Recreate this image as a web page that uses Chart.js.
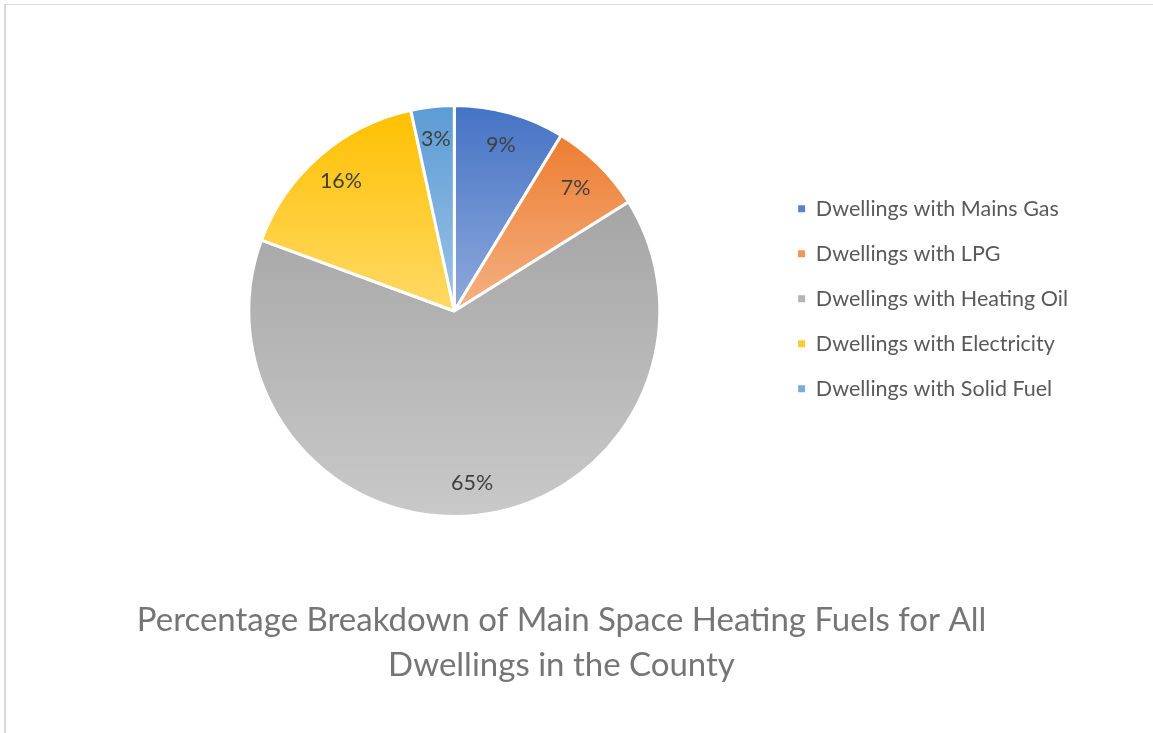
<!DOCTYPE html>
<html>
<head>
<meta charset="utf-8">
<script src="https://cdn.jsdelivr.net/npm/chart.js@4"></script>
<style>
  html, body { margin: 0; padding: 0; background: #fff; }
  body { width: 1153px; height: 733px; position: relative; overflow: hidden; }
  #frame { position: absolute; left: 4px; top: 4px; width: 1170px; height: 760px;
           border-top: 1px solid #d9d9d9; border-left: 2px solid #d9d9d9; }
  #wrap { position: absolute; left: 0; top: 0; width: 1153px; height: 733px; }
</style>
</head>
<body>
<div id="frame"></div>
<div id="wrap"><canvas id="pieChart"></canvas></div>
<script>
// données (en %)
const fuelLabels = [
  'Dwellings with Mains Gas',
  'Dwellings with LPG',
  'Dwellings with Heating Oil',
  'Dwellings with Electricity',
  'Dwellings with Solid Fuel'
];
const fuelShares = [8.7, 7.4, 64.5, 16.0, 3.4];
const chartTitle = ['Percentage Breakdown of Main Space Heating Fuels for All', 'Dwellings in the County'];

// couleurs : haut (foncé) -> bas (clair) de chaque part
const topColors = ['#4472c4', '#ed7d31', '#a5a5a5', '#ffc000', '#5b9bd5'];
const bottomColors = ['#8faadc', '#f4b183', '#c9c9c9', '#ffd966', '#9dc3e6'];
const legendColors = ['#5b80cc', '#f0945a', '#b5b5b5', '#ffca33', '#78aedc'];

const FONT = 'Lato, "Open Sans", sans-serif';

// dégradé vertical sur la hauteur de chaque part
function sliceGradient(ctx) {
  const chart = ctx.chart;
  const area = chart.chartArea;
  const i = ctx.dataIndex;
  if (!area || i === undefined) return topColors[i || 0];
  const cx = (area.left + area.right) / 2;
  const cy = (area.top + area.bottom) / 2;
  const r = Math.min(area.width, area.height) / 2;
  const total = fuelShares.reduce((a, b) => a + b, 0);
  let before = 0;
  for (let k = 0; k < i; k++) before += fuelShares[k];
  const a0 = -Math.PI / 2 + 2 * Math.PI * before / total;
  const a1 = a0 + 2 * Math.PI * fuelShares[i] / total;
  const ys = [cy, cy + r * Math.sin(a0), cy + r * Math.sin(a1)];
  for (const a of [-Math.PI / 2, Math.PI / 2, 3 * Math.PI / 2]) {
    if (a > a0 && a < a1) ys.push(cy + r * Math.sin(a));
  }
  const g = chart.ctx.createLinearGradient(0, Math.min(...ys), 0, Math.max(...ys));
  g.addColorStop(0, topColors[i]);
  g.addColorStop(1, bottomColors[i]);
  return g;
}

// étiquettes de pourcentage dans les parts
const percentLabels = {
  id: 'percentLabels',
  afterDatasetsDraw(chart) {
    const ctx = chart.ctx;
    const meta = chart.getDatasetMeta(0);
    ctx.save();
    ctx.font = '21.5px ' + FONT;
    ctx.fillStyle = '#404040';
    ctx.textAlign = 'center';
    ctx.textBaseline = 'middle';
    meta.data.forEach((arc, i) => {
      const mid = (arc.startAngle + arc.endAngle) / 2;
      const rr = arc.outerRadius * 0.84;
      ctx.fillText(Math.round(fuelShares[i]) + '%', arc.x + Math.cos(mid) * rr, arc.y + Math.sin(mid) * rr);
    });
    ctx.restore();
  }
};

// recale le titre et la légende comme sur l'original
const placeBlocks = {
  id: 'placeBlocks',
  afterLayout(chart) {
    if (chart.titleBlock) {
      chart.titleBlock.left = 0;
      chart.titleBlock.right = 1123;
    }
    if (chart.legend) {
      chart.legend.top -= 102;
      chart.legend.bottom -= 102;
    }
  }
};

const pieChart = new Chart(document.getElementById('pieChart'), {
  type: 'pie',
  data: {
    labels: fuelLabels,
    datasets: [{
      data: fuelShares,
      backgroundColor: sliceGradient,
      borderColor: '#ffffff',
      borderWidth: 3
    }]
  },
  options: {
    responsive: true,
    maintainAspectRatio: false,
    animation: false,
    layout: { padding: { left: 134, right: 75, top: 104, bottom: 35.5 } },
    plugins: {
      tooltip: { enabled: false },
      legend: {
        position: 'right',
        labels: {
          boxWidth: 7,
          boxHeight: 7,
          padding: 23.5,
          color: '#595959',
          font: { family: FONT, size: 21.5 },
          generateLabels(chart) {
            return chart.data.labels.map((text, i) => ({
              text,
              fillStyle: legendColors[i],
              strokeStyle: legendColors[i],
              lineWidth: 0,
              fontColor: '#595959',
              index: i
            }));
          }
        }
      },
      title: {
        display: true,
        position: 'bottom',
        text: chartTitle,
        color: '#757575',
        font: { family: FONT, size: 33, weight: 'normal', lineHeight: 45 / 33 },
        padding: { top: 79.5, bottom: 10 }
      }
    }
  },
  plugins: [placeBlocks, percentLabels]
});
</script>
</body>
</html>
